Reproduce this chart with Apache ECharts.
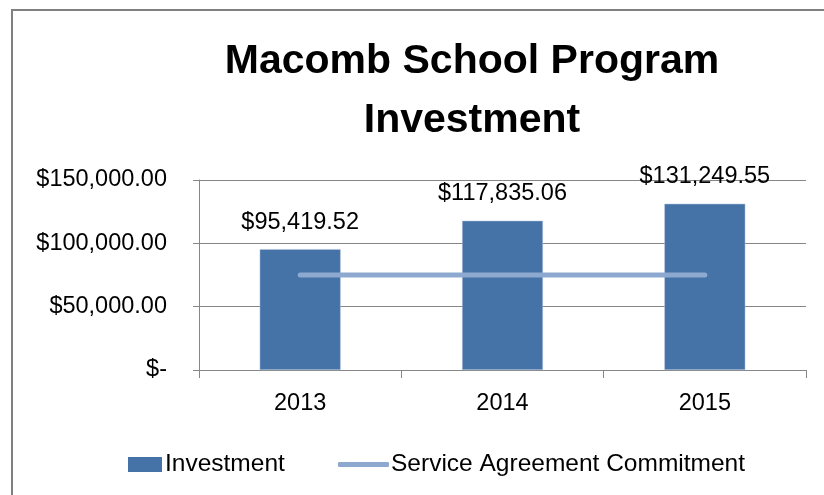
<!DOCTYPE html>
<html>
<head>
<meta charset="utf-8">
<script src="https://cdn.jsdelivr.net/npm/echarts@6/dist/echarts.min.js"></script>
<style>
html,body{margin:0;padding:0;background:#fff;}
#chart{width:824px;height:495px;}
</style>
</head>
<body>
<div id="chart"></div>
<script>
const categories = ['2013', '2014', '2015'];
const investment = [95419.52, 117835.06, 131249.55];
const commitment = [75000, 75000, 75000];
const yTicks = [0, 50000, 100000, 150000];

const FONT = '"Liberation Sans", Arial, sans-serif';

function money(v) {
  if (v === 0) return '$-';
  return '$' + v.toLocaleString('en-US', {minimumFractionDigits: 2, maximumFractionDigits: 2});
}

const chart = echarts.init(document.getElementById('chart'));
chart.setOption({
  animation: false,
  backgroundColor: '#fff',
  textStyle: {fontFamily: FONT},
  title: {
    text: 'Macomb School Program\nInvestment',
    left: 467,
    textAlign: 'center',
    top: 27,
    textStyle: {fontFamily: FONT, fontWeight: 'bold', fontSize: 41, lineHeight: 59, color: '#000', align: 'center'}
  },
  graphic: [{
    type: 'polyline',
    shape: {points: [[12, 495], [12, 10], [824, 10]]},
    style: {stroke: '#808080', lineWidth: 2, fill: null},
    silent: true
  }],
  grid: {left: 199, right: 18, top: 180, bottom: 125},
  legend: [{
    data: [{name: 'Investment', icon: 'rect'}],
    left: 123, top: 447,
    itemWidth: 34, itemHeight: 15, itemGap: 5,
    itemStyle: {borderWidth: 0},
    textStyle: {fontFamily: FONT, fontSize: 24.5, color: '#000', padding: [0,0,0,-2]}
  }, {
    data: [{name: 'Service Agreement Commitment', icon: 'roundRect'}],
    left: 333, top: 447,
    itemWidth: 51, itemHeight: 5,
    itemStyle: {color: '#8EA9D0'},
    textStyle: {fontFamily: FONT, fontSize: 24.5, color: '#000', padding: [0,0,0,-3]}
  }],
  xAxis: {
    type: 'category',
    data: categories,
    axisLine: {lineStyle: {color: '#868686', width: 1}},
    axisTick: {show: true, length: 8, lineStyle: {color: '#868686'}},
    axisLabel: {fontFamily: FONT, fontSize: 23.5, color: '#000', margin: 22}
  },
  yAxis: {
    type: 'value',
    min: 0, max: 150000, interval: 50000,
    axisLine: {show: true, lineStyle: {color: '#868686', width: 1}},
    axisTick: {show: true, length: 6, lineStyle: {color: '#868686'}},
    splitLine: {lineStyle: {color: '#868686', width: 1}},
    axisLabel: {fontFamily: FONT, fontSize: 23.5, color: '#000', margin: 32, formatter: money}
  },
  series: [{
    name: 'Investment',
    type: 'bar',
    data: investment,
    barWidth: '40%',
    itemStyle: {color: '#4572A7', borderColor: '#b9c9de', borderWidth: 0.5},
    label: {
      show: true, position: 'top', distance: 15,
      fontFamily: FONT, fontSize: 23.5, color: '#000',
      formatter: p => money(p.value)
    }
  }, {
    name: 'Service Agreement Commitment',
    type: 'line',
    data: commitment,
    symbol: 'none',
    lineStyle: {color: '#8EA9D0', width: 5, cap: 'round'},
    itemStyle: {color: '#8EA9D0'}
  }]
});
</script>
</body>
</html>
